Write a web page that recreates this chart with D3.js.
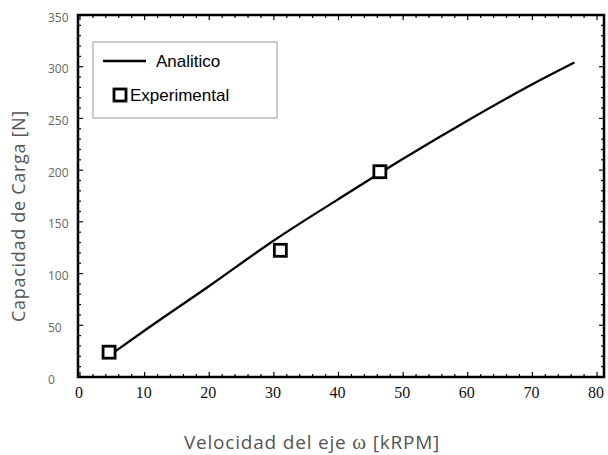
<!DOCTYPE html>
<html lang="es">
<head>
<meta charset="UTF-8">
<title>Capacidad de Carga</title>
<script src="https://cdn.jsdelivr.net/npm/d3@7"></script>
<style>
  html, body { margin: 0; background: #fff; }
  .serif { font-family: "Liberation Serif", "DejaVu Serif", serif; }
</style>
</head>
<body>
<div id="chart"></div>
<script>
// curva analitica
var analitX = [5.5, 10, 20, 30, 40, 50, 60, 70, 76.5];
var analitY = [25, 45, 88, 132, 172, 211, 248, 283, 304];
// puntos experimentales
var expX = [4.5, 31, 46.4];
var expY = [24, 122.5, 198.5];

var xTicks = [0, 10, 20, 30, 40, 50, 60, 70, 80];
var yTicks = [0, 50, 100, 150, 200, 250, 300, 350];

var width = 608, height = 455;
var frame = { left: 78, right: 604, top: 15, bottom: 377 };

var svg = d3.select('#chart').append('svg')
    .attr('width', width)
    .attr('height', height);

var x = d3.scaleLinear().domain([0, 80]).range([80, 597]);
var xMax = x.invert(frame.right);
var y = d3.scaleLinear().domain([0, 350]).range([frame.bottom, frame.top]);

// ticks hacia dentro en los cuatro lados
var ticks = svg.append('g').attr('stroke', '#000').attr('stroke-width', 1.2);
d3.range(0, xMax + 0.01, 2).forEach(function(v){
    var len = (v % 10 === 0) ? 5 : 3;
    ticks.append('line').attr('x1', x(v)).attr('x2', x(v))
        .attr('y1', frame.bottom).attr('y2', frame.bottom - len);
    ticks.append('line').attr('x1', x(v)).attr('x2', x(v))
        .attr('y1', frame.top).attr('y2', frame.top + len);
});
d3.range(0, 351, 10).forEach(function(v){
    var len = (v % 50 === 0) ? 5 : 3;
    ticks.append('line').attr('y1', y(v)).attr('y2', y(v))
        .attr('x1', frame.left).attr('x2', frame.left + len);
    ticks.append('line').attr('y1', y(v)).attr('y2', y(v))
        .attr('x1', frame.right).attr('x2', frame.right - len);
});

svg.append('rect')
    .attr('x', frame.left).attr('y', frame.top)
    .attr('width', frame.right - frame.left)
    .attr('height', frame.bottom - frame.top)
    .attr('fill', 'none').attr('stroke', '#000').attr('stroke-width', 2.5);

// etiquetas
svg.append('g').selectAll('text').data(xTicks).enter().append('text')
    .attr('class', 'serif')
    .attr('x', function(d){ return x(d) - 1; })
    .attr('y', 398)
    .attr('text-anchor', 'middle')
    .attr('font-size', 16)
    .attr('fill', '#111')
    .text(function(d){ return d; });

svg.append('g').selectAll('text').data(yTicks).enter().append('text')
    .attr('x', 48)
    .attr('y', function(d){ return y(d) + 6.5; })
    .attr('font-family', 'Open Sans, sans-serif')
    .attr('font-size', 12)
    .attr('fill', '#666')
    .text(function(d){ return d; });

svg.append('text')
    .attr('transform', 'translate(25,216)rotate(-90)')
    .attr('text-anchor', 'middle')
    .attr('font-family', 'Open Sans, sans-serif')
    .attr('font-size', 18)
    .attr('letter-spacing', 0.7)
    .attr('fill', '#555')
    .text('Capacidad de Carga [N]');

var xt = svg.append('text')
    .attr('x', 312).attr('y', 449)
    .attr('text-anchor', 'middle')
    .attr('font-family', 'Open Sans, sans-serif')
    .attr('font-size', 19)
    .attr('letter-spacing', 0.8)
    .attr('fill', '#555');
xt.append('tspan').text('Velocidad del eje ');
xt.append('tspan').attr('class', 'serif').attr('font-size', 21).text('ω');
xt.append('tspan').text(' [kRPM]');

// curva
var line = d3.line()
    .x(function(d, i){ return x(analitX[i]); })
    .y(function(d){ return y(d); })
    .curve(d3.curveMonotoneX);

svg.append('path')
    .datum(analitY)
    .attr('d', line)
    .attr('fill', 'none')
    .attr('stroke', '#000')
    .attr('stroke-width', 2.3);

svg.append('g').selectAll('rect').data(expY).enter().append('rect')
    .attr('x', function(d, i){ return x(expX[i]) - 6; })
    .attr('y', function(d){ return y(d) - 6; })
    .attr('width', 12).attr('height', 12)
    .attr('fill', '#fff')
    .attr('stroke', '#000')
    .attr('stroke-width', 2.8);

// leyenda
var leg = svg.append('g');
leg.append('rect')
    .attr('x', 93).attr('y', 42).attr('width', 184).attr('height', 76)
    .attr('fill', '#fff').attr('stroke', '#bbb').attr('stroke-width', 1.5);
leg.append('line')
    .attr('x1', 103).attr('x2', 146).attr('y1', 61).attr('y2', 61)
    .attr('stroke', '#000').attr('stroke-width', 2.5);
leg.append('text')
    .attr('x', 156).attr('y', 67)
    .attr('font-family', 'Liberation Sans, Arial, sans-serif')
    .attr('font-size', 17)
    .text('Analitico');
leg.append('rect')
    .attr('x', 114).attr('y', 89).attr('width', 12).attr('height', 12)
    .attr('fill', '#fff').attr('stroke', '#000').attr('stroke-width', 2.8);
leg.append('text')
    .attr('x', 130).attr('y', 101)
    .attr('font-family', 'Liberation Sans, Arial, sans-serif')
    .attr('font-size', 17)
    .text('Experimental');
</script>
</body>
</html>
